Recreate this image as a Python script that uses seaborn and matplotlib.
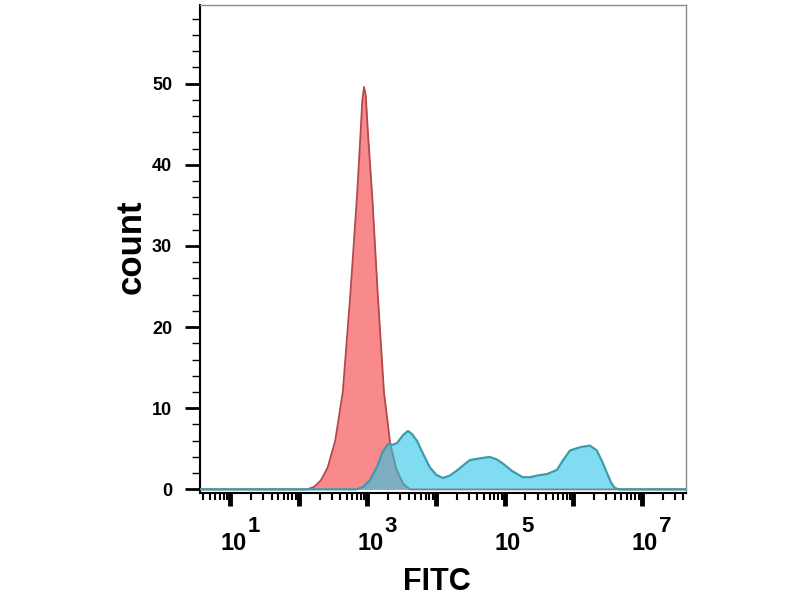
import numpy as np
import pandas as pd
import matplotlib
matplotlib.use("Agg")
import matplotlib.pyplot as plt
import matplotlib.transforms as mtransforms
import seaborn as sns
from matplotlib.ticker import LogLocator, FixedLocator, NullFormatter, FuncFormatter, MultipleLocator

# ---- data (x given as log10 of FITC intensity) ----
isotype_log = [0.56, 2.12, 2.22, 2.32, 2.42, 2.53, 2.64, 2.75, 2.85, 2.89, 2.925, 2.95,
               2.975, 3.01, 3.07, 3.15, 3.24, 3.33, 3.42, 3.52, 3.62, 7.64]
isotype_count = [0, 0, 0.3, 1.1, 2.7, 6.0, 12.0, 24.0, 36.5, 42.5, 48.0, 49.6,
                 48.5, 43.5, 36.0, 24.0, 12.0, 5.7, 2.5, 0.7, 0, 0]

stained_log = [0.56, 2.84, 2.94, 3.04, 3.14, 3.22, 3.30, 3.37, 3.43, 3.52, 3.59,
               3.65, 3.72, 3.82, 3.91, 4.00, 4.10, 4.20, 4.30, 4.40, 4.49,
               4.62, 4.78, 4.88, 4.97, 5.10, 5.26, 5.37, 5.47, 5.62, 5.76,
               5.85, 5.95, 6.10, 6.24, 6.34, 6.42, 6.49, 6.55, 6.60, 6.66, 7.64]
stained_count = [0, 0, 0.3, 1.2, 2.8, 4.6, 5.6, 5.5, 5.7, 6.7, 7.2,
                 6.8, 6.0, 4.2, 2.7, 1.8, 1.4, 1.7, 2.3, 3.0, 3.6,
                 3.8, 4.0, 3.7, 3.2, 2.3, 1.5, 1.5, 1.7, 1.9, 2.4,
                 3.6, 4.8, 5.2, 5.4, 4.8, 3.4, 2.0, 0.8, 0.2, 0, 0]

y_major_ticks = [0, 10, 20, 30, 40, 50]
x_labeled_exponents = [1, 3, 5, 7]
x_title = "FITC"
y_title = "count"

df_iso = pd.DataFrame({"FITC": np.power(10.0, isotype_log), "count": isotype_count})
df_st = pd.DataFrame({"FITC": np.power(10.0, stained_log), "count": stained_count})

sns.set_theme(style="white")
plt.rcParams['font.family'] = ['Liberation Sans', 'DejaVu Sans']
plt.rcParams['text.color'] = 'black'
plt.rcParams['xtick.color'] = 'black'
plt.rcParams['ytick.color'] = 'black'
plt.rcParams['axes.labelcolor'] = 'black'

fig = plt.figure(figsize=(8, 6), dpi=100)
ax = fig.add_axes([0.25, 0.1783, 0.6075, 0.8134])
ax.set_xscale('log')

# isotype (red)
ax.fill_between(df_iso["FITC"], df_iso["count"], color="#f98a8b", lw=0, zorder=2)
sns.lineplot(data=df_iso, x="FITC", y="count", sort=False, estimator=None,
             color="#b3474c", lw=1.3, ax=ax, zorder=3)
# stained (cyan, translucent)
ax.fill_between(df_st["FITC"], df_st["count"], color="#2bc5e6", alpha=0.6, lw=0, zorder=4)
sns.lineplot(data=df_st, x="FITC", y="count", sort=False, estimator=None,
             color="#3b9cab", lw=1.6, ax=ax, zorder=5)

ax.set_xlim(10 ** 0.56, 10 ** 7.64)
ax.set_ylim(-0.45, 59.7)

ax.xaxis.set_major_locator(LogLocator(base=10, numticks=20))
ax.xaxis.set_minor_locator(LogLocator(base=10, subs=np.arange(2, 10), numticks=20))
ax.xaxis.set_minor_formatter(NullFormatter())


def xfmt(v, pos):
    e = int(round(np.log10(v)))
    return "10" if e in x_labeled_exponents else ""


ax.xaxis.set_major_formatter(FuncFormatter(xfmt))
ax.yaxis.set_major_locator(FixedLocator(y_major_ticks))
ax.yaxis.set_minor_locator(MultipleLocator(2))

ax.tick_params(axis='x', which='major', direction='out', length=9, width=3.5,
               color='black', labelsize=17, pad=19, bottom=True, labelcolor='black')
ax.tick_params(axis='x', which='minor', direction='out', length=5, width=1.5,
               color='black', bottom=True)
ax.tick_params(axis='y', which='major', direction='out', length=11, width=2,
               color='black', labelsize=13, pad=9, left=True, labelcolor='black')
ax.tick_params(axis='y', which='minor', direction='out', length=6, width=1,
               color='black', left=True)
for lab in ax.get_yticklabels():
    lab.set_fontweight('bold')
offset = mtransforms.ScaledTranslation(3 / 100, 0, fig.dpi_scale_trans)
for lab in ax.get_xticklabels():
    lab.set_fontweight('bold')
    lab.set_transform(lab.get_transform() + offset)

# exponents of the decade labels
exp_tr = mtransforms.blended_transform_factory(ax.transData, ax.transAxes) + \
    mtransforms.ScaledTranslation(17 / 100, 0, fig.dpi_scale_trans)
for e in x_labeled_exponents:
    ax.text(10.0 ** e, (493 - 532) / 488, str(e), transform=exp_tr, ha='left',
            va='baseline', fontsize=16, fontweight='bold', clip_on=False)

ax.set_xlabel("")
ax.set_ylabel("")

for side in ['top', 'right']:
    ax.spines[side].set_color('#8a8a8a')
    ax.spines[side].set_linewidth(1.0)
for side in ['left', 'bottom']:
    ax.spines[side].set_color('black')
    ax.spines[side].set_linewidth(1.5)

fig.text(131 / 800, 1 - 247 / 600, y_title, rotation=90, ha='center', va='center',
         fontsize=25, fontweight='bold')
fig.text(437 / 800, 1 - 582 / 600, x_title, ha='center', va='center',
         fontsize=22, fontweight='bold')

fig.savefig("out.png", dpi=100)
